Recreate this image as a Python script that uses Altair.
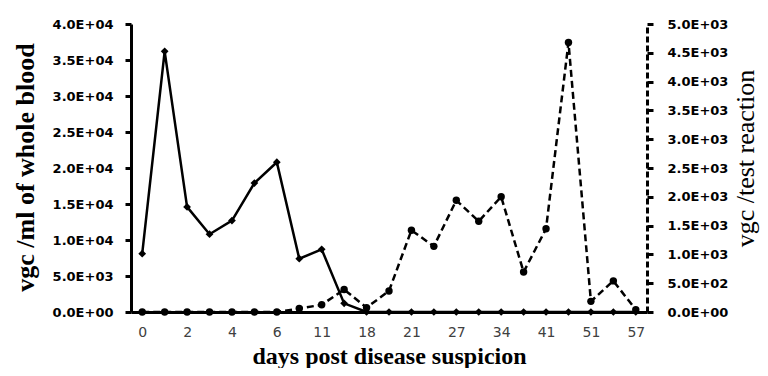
import json
import altair as alt
import pandas as pd

# ---- data ----
idx = list(range(23))
x_labels = ["0", "", "2", "", "4", "", "6", "", "11", "", "18", "", "21", "",
            "27", "", "34", "", "41", "", "51", "", "57"]
blood = [8100, 36200, 14600, 10800, 12700, 17900, 20800, 7400, 8700, 1200, 0,
         0, 0, 0, 0, 0, 0, 0, 0, 0, 0, 0, 0]
reaction = [0, 0, 0, 0, 0, 0, 0, 60, 125, 390, 75, 365, 1420, 1140, 1940, 1575,
            2000, 695, 1445, 4680, 185, 540, 40]
left_ticks = list(range(0, 40001, 5000))
right_ticks = list(range(0, 5001, 500))

df = pd.DataFrame({"i": idx, "blood": blood, "reaction": reaction})

W, H = 516, 288
TOTAL_W, TOTAL_H = 752, 360

sci = ("datum.value == 0 ? '0.0E+00' : "
       "format(datum.value / pow(10, floor(log(datum.value)/LN10 + 1e-9)), '.1f') + 'E+0' + "
       "floor(log(datum.value)/LN10 + 1e-9)")

x_enc = alt.X(
    "i:O",
    scale=alt.Scale(type="point", padding=0.5),
    axis=alt.Axis(
        title="days post disease suspicion",
        labelExpr=json.dumps(x_labels) + "[datum.value]",
        labelAngle=0, ticks=False, tickSize=0, grid=False,
        domainColor="black", domainWidth=3,
        labelPadding=13, labelFont="DejaVu Sans", labelFontSize=14,
        labelColor="#404040",
        titleFont="Liberation Serif", titleFontSize=24, titleFontWeight="bold",
        titleColor="black", titleX=W / 2, titleY=51, titleBaseline="alphabetic",
        titleAlign="center",
    ),
)

y_left = alt.Y(
    "blood:Q",
    scale=alt.Scale(domain=[0, 40000], nice=False),
    axis=alt.Axis(
        orient="left", values=left_ticks, labelExpr=sci,
        title="vgc /ml of whole blood", grid=False,
        domainColor="black", domainWidth=3,
        tickColor="black", tickWidth=3, tickSize=6,
        labelPadding=12, labelFont="DejaVu Sans", labelFontSize=13,
        labelFontWeight="bold", labelColor="black",
        titleFont="Liberation Serif", titleFontSize=26, titleFontWeight="bold",
        titleColor="black", titleAngle=270, titleX=-98, titleY=143,
        titleBaseline="alphabetic", titleAlign="center",
    ),
)

y_right = alt.Y(
    "reaction:Q",
    scale=alt.Scale(domain=[0, 5000], nice=False),
    axis=alt.Axis(
        orient="right", values=right_ticks, labelExpr=sci,
        title="vgc /test reaction", grid=False,
        domainColor="black", domainWidth=3, domainDash=[6, 3],
        tickColor="black", tickWidth=3, tickSize=6,
        labelPadding=14, labelFont="DejaVu Sans", labelFontSize=13,
        labelFontWeight="bold", labelColor="black",
        titleFont="Liberation Serif", titleFontSize=26, titleFontWeight="normal",
        titleColor="black", titleAngle=270, titleX=106, titleY=134,
        titleBaseline="alphabetic", titleAlign="center",
    ),
)

base = alt.Chart(df)

blood_layer = alt.layer(
    base.mark_line(color="black", strokeWidth=2.5).encode(x=x_enc, y=y_left),
    base.mark_point(shape="diamond", filled=True, size=60, color="black",
                    opacity=1).encode(x=x_enc, y=y_left),
)

reaction_layer = alt.layer(
    base.mark_line(color="black", strokeWidth=2.5, strokeDash=[7, 4]).encode(
        x=x_enc, y=y_right),
    base.mark_point(shape="circle", filled=True, size=55, color="black",
                    opacity=1).encode(x=x_enc, y=y_right),
)

chart = (
    alt.layer(blood_layer, reaction_layer)
    .resolve_scale(y="independent")
    .properties(
        width=W, height=H,
        autosize=alt.AutoSizeParams(type="none"),
        padding={"left": 123, "top": 16, "right": TOTAL_W - 123 - W,
                 "bottom": TOTAL_H - 16 - H},
        background="white",
    )
    .configure_view(stroke=None)
)

chart.save("out.html", embed_options={"renderer": "svg", "actions": False})
